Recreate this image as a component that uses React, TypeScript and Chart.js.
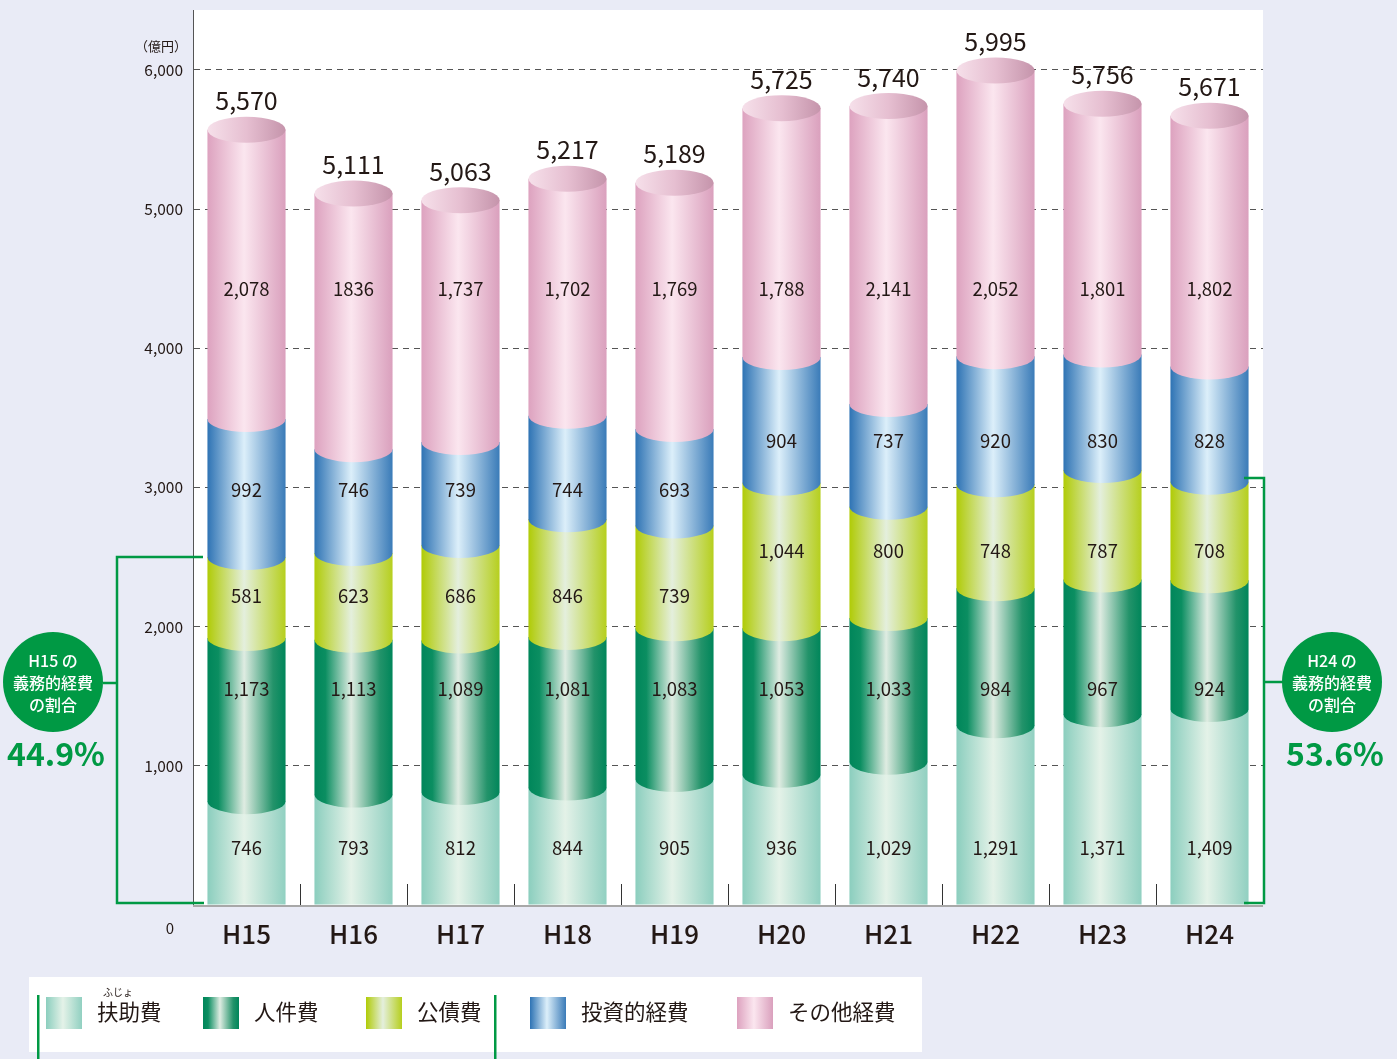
import { useEffect, useRef } from 'react';
import { Chart, registerables } from 'chart.js';

Chart.register(...registerables);

// ---------------- DATA ----------------
const categories = ['H15', 'H16', 'H17', 'H18', 'H19', 'H20', 'H21', 'H22', 'H23', 'H24'];
const fujo = [746, 793, 812, 844, 905, 936, 1029, 1291, 1371, 1409]; // 扶助費
const jinken = [1173, 1113, 1089, 1081, 1083, 1053, 1033, 984, 967, 924]; // 人件費
const kousai = [581, 623, 686, 846, 739, 1044, 800, 748, 787, 708]; // 公債費
const toushi = [992, 746, 739, 744, 693, 904, 737, 920, 830, 828]; // 投資的経費
const sonota = [2078, 1836, 1737, 1702, 1769, 1788, 2141, 2052, 1801, 1802]; // その他経費
const seriesNames = ['扶助費', '人件費', '公債費', '投資的経費', 'その他経費'];
const yTickValues = [0, 1000, 2000, 3000, 4000, 5000, 6000];
const unitLabel = '（億円）';
const rubyText = 'ふじょ';
// value label printed without thousands separator in the source: [series, category]
const plainLabels = [[4, 1]];

// ---------------- STYLE / LAYOUT ----------------
const FONT = '"Noto Sans CJK JP", "Noto Sans", sans-serif';
const TEXT = '#231815';
const GREEN = '#009944';
const BG = '#e9ebf6';
const Y_MAX = 6430;
const RY = 13;

const gradStops: Array<Array<[number, string]>> = [
  [[0, '#8bcebe'], [0.47, '#e4f2e8'], [1, '#91d0c1']],
  [[0, '#00865a'], [0.14, '#0b8e61'], [0.47, '#dfece2'], [0.84, '#23936a'], [1, '#00865a']],
  [[0, '#b0cb06'], [0.47, '#e4efdd'], [1, '#b6cf1e']],
  [[0, '#2e73b4'], [0.47, '#dcefFa'], [1, '#3a7bb8']],
  [[0, '#dda2bf'], [0.47, '#fbe6ef'], [1, '#daa0bd']],
];
const capStops: Array<[number, string]> = [[0, '#f6e0ea'], [0.5, '#e6bfd1'], [1, '#c594ab']];

// label rows (value-space anchors) per series: [H15–H19, H20–H24]
const labelRows = [[410, 410], [1552, 1552], [2220, 2544], [2982, 3334], [4426, 4426]];

const allSeries = [fujo, jinken, kousai, toushi, sonota];

function fmt(v: number, d: number, i: number) {
  if (plainLabels.some(([a, b]) => a === d && b === i)) return String(v);
  return v.toLocaleString('en-US');
}

function grad(ctx: CanvasRenderingContext2D, l: number, r: number, stops: Array<[number, string]>) {
  const g = ctx.createLinearGradient(l, 0, r, 0);
  stops.forEach(([o, c]) => g.addColorStop(o, c));
  return g;
}

const cylinderPlugin = {
  id: 'cylinders',
  beforeDraw(chart: any) {
    const { ctx, chartArea } = chart;
    ctx.save();
    ctx.fillStyle = BG;
    ctx.fillRect(0, 0, chart.width, chart.height);
    ctx.fillStyle = '#ffffff';
    ctx.fillRect(chartArea.left, 10, chartArea.right - chartArea.left, chartArea.bottom - 10);
    ctx.restore();
  },
  afterDatasetsDraw(chart: any) {
    const { ctx, chartArea, scales } = chart;
    const xs = scales.x;
    const ys = scales.y;
    const n = categories.length;

    // category separators
    ctx.save();
    ctx.strokeStyle = '#333';
    ctx.lineWidth = 1;
    for (let i = 1; i < n; i++) {
      const sx = Math.round((xs.getPixelForValue(i - 1) + xs.getPixelForValue(i)) / 2) + 0.5;
      ctx.beginPath();
      ctx.moveTo(sx, chartArea.bottom - 21);
      ctx.lineTo(sx, chartArea.bottom);
      ctx.stroke();
    }
    ctx.restore();

    ctx.save();
    ctx.beginPath();
    ctx.rect(chartArea.left, 0, chartArea.right - chartArea.left, chartArea.bottom);
    ctx.clip();
    for (let i = 0; i < n; i++) {
      for (let d = 0; d < allSeries.length; d++) {
        const el: any = chart.getDatasetMeta(d).data[i];
        const { x, y, base, width } = el.getProps(['x', 'y', 'base', 'width'], true);
        const l = x - width / 2;
        const r = x + width / 2;
        ctx.beginPath();
        ctx.moveTo(l, y);
        ctx.lineTo(r, y);
        ctx.lineTo(r, base);
        if (d > 0) ctx.ellipse(x, base, width / 2, RY, 0, 0, Math.PI);
        else ctx.lineTo(l, base);
        ctx.closePath();
        ctx.fillStyle = grad(ctx, l, r, gradStops[d]);
        ctx.fill();
        if (d === allSeries.length - 1) {
          ctx.beginPath();
          ctx.ellipse(x, y, width / 2, RY, 0, 0, Math.PI * 2);
          ctx.fillStyle = grad(ctx, l, r, capStops);
          ctx.fill();
        }
      }
    }
    ctx.restore();

    // bottom line
    ctx.save();
    ctx.strokeStyle = '#a8a8a8';
    ctx.lineWidth = 2;
    ctx.beginPath();
    ctx.moveTo(chartArea.left, chartArea.bottom + 1);
    ctx.lineTo(chartArea.right, chartArea.bottom + 1);
    ctx.stroke();
    ctx.restore();

    // value labels
    ctx.save();
    ctx.fillStyle = TEXT;
    ctx.textAlign = 'center';
    ctx.textBaseline = 'middle';
    for (let i = 0; i < n; i++) {
      const x = xs.getPixelForValue(i);
      const grp = i < 5 ? 0 : 1;
      ctx.font = `400 18.5px ${FONT}`;
      for (let d = 0; d < allSeries.length; d++) {
        ctx.fillText(fmt(allSeries[d][i], d, i), x, ys.getPixelForValue(labelRows[d][grp]));
      }
      const total = allSeries.reduce((s, a) => s + a[i], 0);
      ctx.font = `400 25px ${FONT}`;
      ctx.fillText(total.toLocaleString('en-US'), x, ys.getPixelForValue(total) - 29);
      ctx.font = `500 26px ${FONT}`;
      ctx.fillText(categories[i], x, chartArea.bottom + 29);
    }
    ctx.font = `400 15px ${FONT}`;
    ctx.fillText('0', 170, chartArea.bottom + 23);
    ctx.font = `400 13px ${FONT}`;
    ctx.fillText(unitLabel, 161, 46);
    ctx.restore();
  },
  afterDraw(chart: any) {
    const { ctx, chartArea, scales } = chart;
    const ys = scales.y;
    const n = categories.length;
    const duty = (i: number) => fujo[i] + jinken[i] + kousai[i];
    const total = (i: number) => allSeries.reduce((s, a) => s + a[i], 0);
    const pct = (i: number) => ((duty(i) / total(i)) * 100).toFixed(1) + '%';

    ctx.save();
    ctx.strokeStyle = GREEN;
    ctx.lineWidth = 2.5;
    // left bracket
    const lt = Math.round(ys.getPixelForValue(duty(0)));
    const bot = chartArea.bottom - 2;
    ctx.beginPath();
    ctx.moveTo(203, lt);
    ctx.lineTo(117, lt);
    ctx.lineTo(117, bot);
    ctx.lineTo(204, bot);
    ctx.moveTo(103, 683);
    ctx.lineTo(117, 683);
    ctx.stroke();
    // right bracket
    const rt = Math.round(ys.getPixelForValue(duty(n - 1))) - 4;
    ctx.beginPath();
    ctx.moveTo(1244, rt);
    ctx.lineTo(1264, rt);
    ctx.lineTo(1264, bot);
    ctx.lineTo(1244, bot);
    ctx.moveTo(1264, 682);
    ctx.lineTo(1283, 682);
    ctx.stroke();

    const circle = (cx: number, cy: number, label: string, p: string) => {
      ctx.fillStyle = GREEN;
      ctx.beginPath();
      ctx.arc(cx, cy, 50, 0, Math.PI * 2);
      ctx.fill();
      ctx.fillStyle = '#ffffff';
      ctx.textAlign = 'center';
      ctx.textBaseline = 'middle';
      ctx.font = `500 16px ${FONT}`;
      ctx.fillText(label + ' の', cx, cy - 21);
      ctx.fillText('義務的経費', cx, cy + 1);
      ctx.fillText('の割合', cx, cy + 23);
      ctx.fillStyle = GREEN;
      ctx.font = `700 32px ${FONT}`;
      ctx.fillText(p, cx + 3, cy + 72);
    };
    circle(53, 682, categories[0], pct(0));
    circle(1332, 682, categories[n - 1], pct(n - 1));
    ctx.restore();

    // legend
    ctx.save();
    ctx.fillStyle = '#ffffff';
    ctx.fillRect(29, 977, 893, 75);
    ctx.fillStyle = GREEN;
    ctx.fillRect(37, 995, 2.5, 70);
    ctx.fillRect(494, 995, 2.5, 70);
    const sw = [46, 203, 366, 530, 737];
    ctx.textAlign = 'left';
    ctx.textBaseline = 'middle';
    for (let d = 0; d < seriesNames.length; d++) {
      const l = sw[d];
      ctx.fillStyle = grad(ctx, l, l + 36, gradStops[d]);
      ctx.fillRect(l, 997, 36, 32);
      ctx.fillStyle = TEXT;
      ctx.font = `400 21.5px ${FONT}`;
      ctx.fillText(seriesNames[d], l + 51, 1012);
    }
    ctx.font = `400 10px ${FONT}`;
    ctx.textAlign = 'center';
    ctx.fillText(rubyText, 118, 992);
    ctx.restore();
  },
};

export default function App() {
  const canvasRef = useRef<HTMLCanvasElement | null>(null);

  useEffect(() => {
    const canvas = canvasRef.current;
    if (!canvas) return;
    const chart = new Chart(canvas, {
      type: 'bar',
      data: {
        labels: categories,
        datasets: allSeries.map((data, d) => ({
          label: seriesNames[d],
          data,
          backgroundColor: 'rgba(0,0,0,0)',
          borderWidth: 0,
          barPercentage: 0.73,
          categoryPercentage: 1.0,
        })),
      },
      options: {
        responsive: false,
        animation: false,
        events: [],
        layout: { padding: { left: 0, top: 10, right: 134, bottom: 0 } },
        plugins: {
          legend: { display: false },
          tooltip: { enabled: false },
        },
        scales: {
          x: {
            stacked: true,
            grid: { display: false },
            border: { display: false },
            ticks: { display: false },
            afterFit: (s: any) => {
              s.height = 154;
              s.paddingLeft = 0;
              s.paddingRight = 0;
            },
          },
          y: {
            stacked: true,
            min: 0,
            max: Y_MAX,
            afterBuildTicks: (s: any) => {
              s.ticks = yTickValues.map((value) => ({ value }));
            },
            afterFit: (s: any) => {
              s.width = 193;
              s.paddingTop = 0;
              s.paddingBottom = 0;
            },
            grid: {
              drawTicks: false,
              color: (c: any) => (c.tick && c.tick.value === 0 ? 'rgba(0,0,0,0)' : '#555555'),
              lineWidth: 1,
            },
            border: { display: true, color: '#555555', width: 1, dash: [6, 5] },
            ticks: {
              padding: 10,
              color: TEXT,
              font: { family: FONT, size: 15.5 },
              callback: (v: any) => (Number(v) === 0 ? '' : Number(v).toLocaleString('en-US')),
            },
          },
        },
      },
      plugins: [cylinderPlugin],
    });
    return () => chart.destroy();
  }, []);

  return (
    <div style={{ position: 'absolute', left: 0, top: 0, width: 1397, height: 1059 }}>
      <canvas ref={canvasRef} width={1397} height={1059} style={{ display: 'block' }} />
    </div>
  );
}
